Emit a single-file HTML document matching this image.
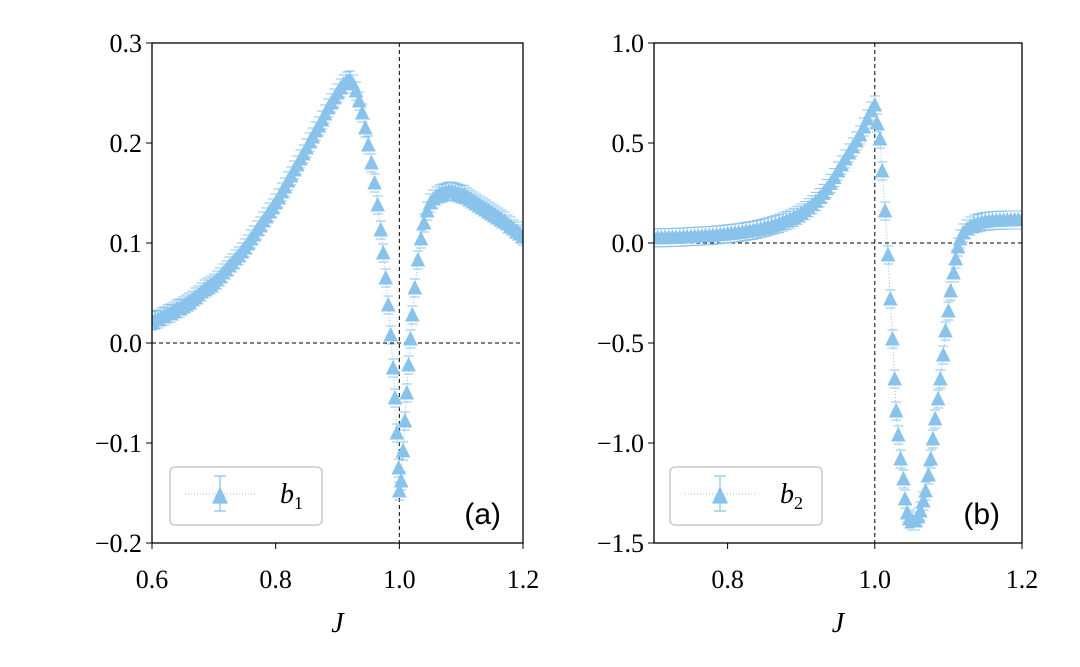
<!DOCTYPE html>
<html><head><meta charset="utf-8"><style>
body{margin:0;background:#fff}
svg text{font-family:"Liberation Serif",serif;font-size:26px;fill:#000}
</style></head><body>
<svg id="chart" width="1080" height="662" viewBox="0 0 1080 662" xmlns="http://www.w3.org/2000/svg">
<defs>
<clipPath id="clipa"><rect x="152" y="43" width="371" height="500"/></clipPath>
<clipPath id="clipb"><rect x="654" y="43" width="368" height="500"/></clipPath>
</defs>
<g id="pa"></g>
<g id="pb"></g>
</svg>
<script>
const jA=[0.600,0.605,0.610,0.615,0.620,0.625,0.630,0.635,0.640,0.645,0.650,0.655,0.660,0.665,0.670,0.675,0.680,0.685,0.690,0.695,0.700,0.705,0.710,0.715,0.720,0.725,0.730,0.735,0.740,0.745,0.750,0.755,0.760,0.765,0.770,0.775,0.780,0.785,0.790,0.795,0.800,0.805,0.810,0.815,0.820,0.825,0.830,0.835,0.840,0.845,0.850,0.855,0.860,0.865,0.870,0.875,0.880,0.885,0.890,0.895,0.900,0.905,0.910,0.915,0.920,0.925,0.930,0.935,0.940,0.945,0.950,0.955,0.960,0.965,0.970,0.974,0.978,0.982,0.986,0.990,0.993,0.996,0.999,1.000,1.003,1.006,1.009,1.012,1.015,1.018,1.021,1.025,1.030,1.035,1.040,1.045,1.050,1.055,1.060,1.065,1.070,1.075,1.080,1.085,1.090,1.095,1.100,1.105,1.110,1.115,1.120,1.125,1.130,1.135,1.140,1.145,1.150,1.155,1.160,1.165,1.170,1.175,1.180,1.185,1.190,1.195,1.200];
const vA=[0.022,0.023,0.024,0.026,0.027,0.029,0.030,0.032,0.034,0.035,0.037,0.039,0.041,0.043,0.046,0.048,0.051,0.054,0.056,0.058,0.060,0.063,0.066,0.070,0.073,0.077,0.080,0.084,0.087,0.091,0.095,0.099,0.104,0.108,0.113,0.117,0.122,0.126,0.131,0.135,0.140,0.145,0.151,0.156,0.162,0.167,0.173,0.178,0.184,0.189,0.195,0.201,0.206,0.212,0.217,0.223,0.229,0.235,0.240,0.245,0.250,0.255,0.259,0.262,0.263,0.259,0.252,0.242,0.230,0.215,0.198,0.180,0.160,0.138,0.113,0.090,0.065,0.038,0.008,-0.025,-0.055,-0.090,-0.125,-0.148,-0.138,-0.108,-0.078,-0.050,-0.022,0.004,0.028,0.055,0.083,0.104,0.120,0.132,0.140,0.144,0.147,0.149,0.150,0.151,0.152,0.152,0.151,0.150,0.149,0.148,0.146,0.144,0.142,0.140,0.138,0.136,0.134,0.132,0.130,0.128,0.126,0.124,0.122,0.119,0.117,0.114,0.112,0.109,0.107];
const jB=[0.700,0.705,0.710,0.715,0.720,0.725,0.730,0.735,0.740,0.745,0.750,0.755,0.760,0.765,0.770,0.775,0.780,0.785,0.790,0.795,0.800,0.805,0.810,0.815,0.820,0.825,0.830,0.835,0.840,0.845,0.850,0.855,0.860,0.865,0.870,0.875,0.880,0.885,0.890,0.895,0.900,0.905,0.910,0.915,0.920,0.925,0.930,0.935,0.940,0.945,0.950,0.955,0.960,0.965,0.970,0.975,0.980,0.985,0.990,0.995,1.000,1.003,1.007,1.010,1.014,1.018,1.021,1.024,1.027,1.029,1.032,1.035,1.039,1.041,1.044,1.047,1.051,1.055,1.059,1.062,1.066,1.069,1.073,1.076,1.079,1.082,1.086,1.089,1.093,1.096,1.100,1.103,1.107,1.110,1.113,1.116,1.120,1.125,1.130,1.135,1.140,1.145,1.150,1.155,1.160,1.165,1.170,1.175,1.180,1.185,1.190,1.195,1.200];
const vB=[0.025,0.026,0.026,0.027,0.027,0.028,0.028,0.029,0.030,0.031,0.032,0.033,0.034,0.035,0.036,0.037,0.038,0.040,0.042,0.044,0.046,0.048,0.050,0.052,0.055,0.058,0.061,0.064,0.068,0.072,0.076,0.081,0.086,0.092,0.098,0.105,0.112,0.120,0.129,0.139,0.150,0.162,0.176,0.191,0.208,0.227,0.248,0.272,0.298,0.327,0.360,0.390,0.420,0.450,0.480,0.510,0.540,0.580,0.620,0.660,0.690,0.600,0.520,0.360,0.160,-0.060,-0.280,-0.480,-0.680,-0.840,-0.960,-1.080,-1.180,-1.280,-1.350,-1.380,-1.390,-1.390,-1.370,-1.340,-1.290,-1.240,-1.160,-1.080,-0.980,-0.880,-0.780,-0.680,-0.560,-0.440,-0.340,-0.240,-0.150,-0.080,-0.020,0.020,0.050,0.070,0.085,0.095,0.100,0.105,0.108,0.110,0.112,0.113,0.114,0.114,0.115,0.115,0.115,0.115,0.115];
const ticksAx=[0.6,0.8,1.0,1.2], ticksAy=[-0.2,-0.1,0.0,0.1,0.2,0.3];
const ticksBx=[0.8,1.0,1.2], ticksBy=[-1.5,-1.0,-0.5,0.0,0.5,1.0];
const NS="http://www.w3.org/2000/svg", C="#89c3eb";
function mk(p,t,a){const e=document.createElementNS(NS,t);for(const k in a)e.setAttribute(k,a[k]);p.appendChild(e);return e;}
function fmt(v,d){const s=Math.abs(v).toFixed(d);return (v<0?"\u2212":"")+s;}
function panel(g,x0,x1,xmin,xmax,ymin,ymax,js,vs,tx,ty,clip,lab,lbx,sub){
  const y0=43,y1=543;
  const X=v=>x0+(v-xmin)/(xmax-xmin)*(x1-x0), Y=v=>y1-(v-ymin)/(ymax-ymin)*(y1-y0);
  let l=mk(g,'line',{x1:x0,x2:x1,y1:Y(0),y2:Y(0),stroke:'#000','stroke-width':1,'stroke-dasharray':'4,3'});
  
  l=mk(g,'line',{x1:X(1),x2:X(1),y1:y0,y2:y1,stroke:'#000','stroke-width':1,'stroke-dasharray':'4,3'});
  
  const sg=mk(g,'g',{'clip-path':'url(#'+clip+')'});
  
  const pts=js.map((j,i)=>X(j)+','+Y(vs[i])).join(' ');
  l=mk(sg,'polyline',{points:pts,fill:'none',stroke:C,'stroke-width':1,'stroke-dasharray':'1,2'});
  
  js.forEach((j,i)=>{const x=X(j),y=Y(vs[i]);
    const m=mk(sg,'path',{d:`M${x-6.5},${y+6} L${x+6.5},${y+6} L${x},${y-7} Z M${x-5},${y-9} H${x+5} M${x-5},${y+9} H${x+5}`,fill:C,stroke:C,'stroke-width':1});
    
    });
  l=mk(g,'rect',{x:x0,y:y0,width:x1-x0,height:y1-y0,fill:'none',stroke:'#000','stroke-width':1.3});
  
  tx.forEach(v=>{mk(g,'line',{x1:X(v),x2:X(v),y1:y1,y2:y1+6,stroke:'#000'});
    const t=mk(g,'text',{x:X(v),y:y1+45,'text-anchor':'middle'});t.textContent=v.toFixed(1);
    });
  ty.forEach(v=>{mk(g,'line',{x1:x0-6,x2:x0,y1:Y(v),y2:Y(v),stroke:'#000'});
    const t=mk(g,'text',{x:x0-10,y:Y(v)+9,'text-anchor':'end'});t.textContent=fmt(v,1);
    });
  let t=mk(g,'text',{x:(x0+x1)/2,y:632,'text-anchor':'middle',style:'font-style:italic;font-size:28px'});t.textContent='J';
  
  const lg=mk(g,'g',{});
  mk(lg,'rect',{x:lbx,y:467,width:152,height:58,rx:5,fill:'#fff',stroke:'#d6d6d6','stroke-width':2});
  mk(lg,'line',{x1:lbx+15,x2:lbx+85,y1:494,y2:494,stroke:C,'stroke-dasharray':'1,2'});
  mk(lg,'path',{d:`M${lbx+43},${503} L${lbx+57},${503} L${lbx+50},${488} Z M${lbx+44},476 H${lbx+56} M${lbx+44},511 H${lbx+56} M${lbx+50},476 V511`,fill:C,stroke:C,'stroke-width':1.3});
  t=mk(lg,'text',{x:lbx+110,y:503,style:'font-style:italic;font-size:28px'});t.textContent='b';
  const s=mk(t,'tspan',{dy:6,style:'font-style:normal;font-size:18px'});s.textContent=sub;
  t=mk(g,'text',{x:x1-22,y:524,'text-anchor':'end',style:'font-family:"Liberation Sans",sans-serif;font-size:30px'});t.textContent=lab;
  
}
panel(document.getElementById('pa'),152,523,0.6,1.2,-0.2,0.3,jA,vA,ticksAx,ticksAy,'clipa','(a)',170,'1');
panel(document.getElementById('pb'),654,1022,0.7,1.2,-1.5,1.0,jB,vB,ticksBx,ticksBy,'clipb','(b)',670,'2');
</script>
</body></html>
